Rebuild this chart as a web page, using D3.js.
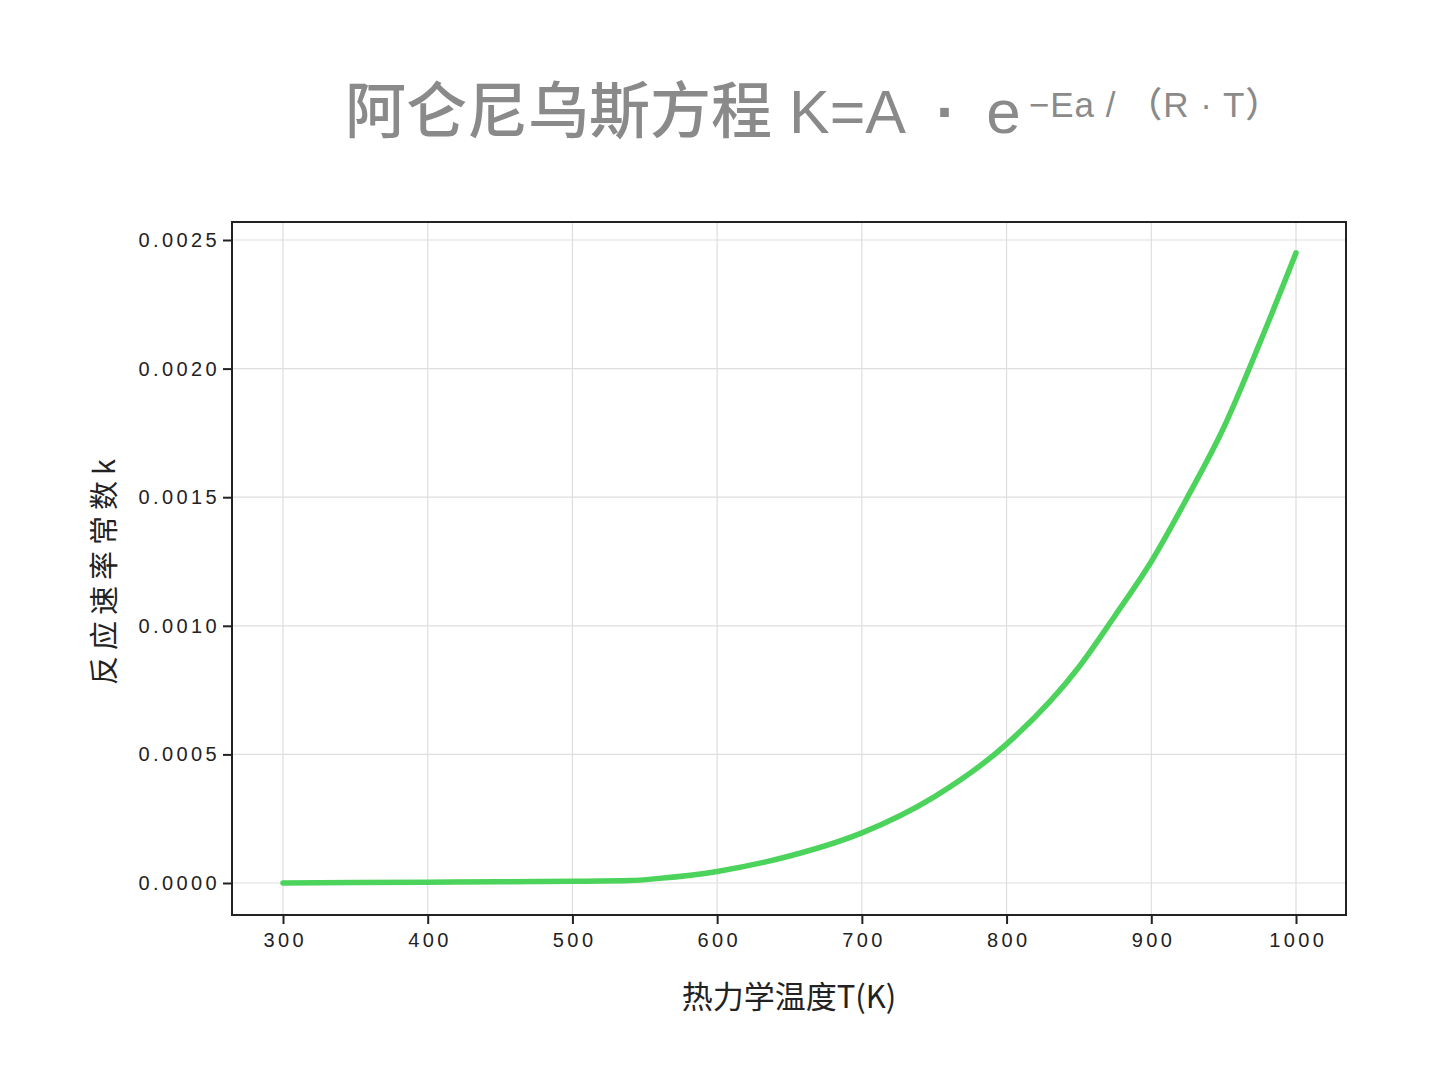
<!DOCTYPE html>
<html>
<head>
<meta charset="utf-8">
<script src="https://cdn.jsdelivr.net/npm/d3@7"></script>
<style>
  body { margin: 0; background: #fff; }
  svg { display: block; }
</style>
</head>
<body>
<svg id="chart" width="1431" height="1080"></svg>
<script>
// temperature (K) and rate constant k
const temps = [300, 350, 400, 450, 500, 540, 560, 600, 650, 700, 750, 800, 850, 875, 900, 925, 950, 975, 1000];
const rates = [0.0, 0.0000015, 0.000003, 0.0000045, 0.0000065, 0.0000095, 0.000018, 0.000045,
               0.000105, 0.000195, 0.000335, 0.00054, 0.00084, 0.00104, 0.00125, 0.0015,
               0.00177, 0.0021, 0.00245];
const xTicks = [300, 400, 500, 600, 700, 800, 900, 1000];
const yTicks = [0, 0.0005, 0.001, 0.0015, 0.002, 0.0025];

const width = 1431, height = 1080;
const margin = {top: 222, right: 85, bottom: 165, left: 232};

const svg = d3.select("#chart");
const font = "'Noto Sans CJK SC', 'Noto Sans', sans-serif";
const latin = "'Liberation Sans', 'Noto Sans CJK SC', sans-serif";

const x = d3.scaleLinear()
    .domain([300, 1000])
    .range([283, 1296]);

const y = d3.scaleLinear()
    .domain([0, 0.0025])
    .range([883, 240]);

const plotL = margin.left, plotR = width - margin.right;
const plotT = margin.top, plotB = height - margin.bottom;

// grid
svg.append("g")
    .selectAll("line")
    .data(xTicks)
    .join("line")
    .attr("x1", d => x(d)).attr("x2", d => x(d))
    .attr("y1", plotT).attr("y2", plotB)
    .attr("stroke", "#dedede").attr("stroke-width", 1.2);

svg.append("g")
    .selectAll("line")
    .data(yTicks)
    .join("line")
    .attr("x1", plotL).attr("x2", plotR)
    .attr("y1", d => y(d)).attr("y2", d => y(d))
    .attr("stroke", "#dedede").attr("stroke-width", 1.2);

// curve
const data = temps.map((t, i) => ({t: t, k: rates[i]}));
const line = d3.line()
    .x(d => x(d.t))
    .y(d => y(d.k))
    .curve(d3.curveMonotoneX);

svg.append("path")
    .datum(data)
    .attr("fill", "none")
    .attr("stroke", "#4cd35b")
    .attr("stroke-width", 5.5)
    .attr("stroke-linecap", "round")
    .attr("stroke-linejoin", "round")
    .attr("d", line);

// frame
svg.append("rect")
    .attr("x", plotL).attr("y", plotT)
    .attr("width", plotR - plotL).attr("height", plotB - plotT)
    .attr("fill", "none").attr("stroke", "#222").attr("stroke-width", 2);

// axes
const styleTicks = g => g
    .call(g => g.select(".domain").remove())
    .call(g => g.selectAll(".tick line").attr("stroke", "#222").attr("stroke-width", 2))
    .call(g => g.selectAll(".tick text")
        .attr("fill", "#222")
        .attr("font-size", 20)
        .attr("letter-spacing", "3.4px")
        .attr("font-family", latin));

const xAxis = g => g
    .attr("transform", `translate(0,${plotB})`)
    .call(d3.axisBottom(x).tickValues(xTicks).tickSize(9).tickPadding(9).tickFormat(d3.format("d")))
    .call(styleTicks)
    .call(g => g.selectAll(".tick text").attr("dx", "1.7px"));

const yAxis = g => g
    .attr("transform", `translate(${plotL},0)`)
    .call(d3.axisLeft(y).tickValues(yTicks).tickSize(9).tickPadding(3).tickFormat(d3.format(".4f")))
    .call(styleTicks);

svg.append("g").call(xAxis);
svg.append("g").call(yAxis);

// axis titles
svg.append("text")
    .attr("x", 789)
    .attr("y", 1008)
    .attr("text-anchor", "middle")
    .attr("font-family", font)
    .attr("font-size", 31)
    .attr("fill", "#222")
    .text("热力学温度T(K)");

svg.append("text")
    .attr("transform", "translate(115,569) rotate(-90)")
    .attr("text-anchor", "middle")
    .attr("font-family", font)
    .attr("font-size", 29)
    .attr("letter-spacing", "6px")
    .attr("fill", "#222")
    .text("反应速率常数k");

// title
const title = svg.append("text")
    .attr("x", 345)
    .attr("y", 133)
    .attr("font-family", latin)
    .attr("font-weight", 500)
    .attr("fill", "#8a8a8a");

title.append("tspan")
    .attr("font-size", 61)
    .text("阿仑尼乌斯方程 K=A");

title.append("tspan")
    .attr("font-size", 61)
    .attr("font-weight", 700)
    .attr("dx", 30)
    .text("·");

title.append("tspan")
    .attr("font-size", 62)
    .attr("dx", 30)
    .text("e");

title.append("tspan")
    .attr("font-size", 35)
    .attr("dy", -16)
    .attr("dx", 8)
    .attr("letter-spacing", "1px")
    .text("−Ea / （R · T）");
</script>
</body>
</html>
